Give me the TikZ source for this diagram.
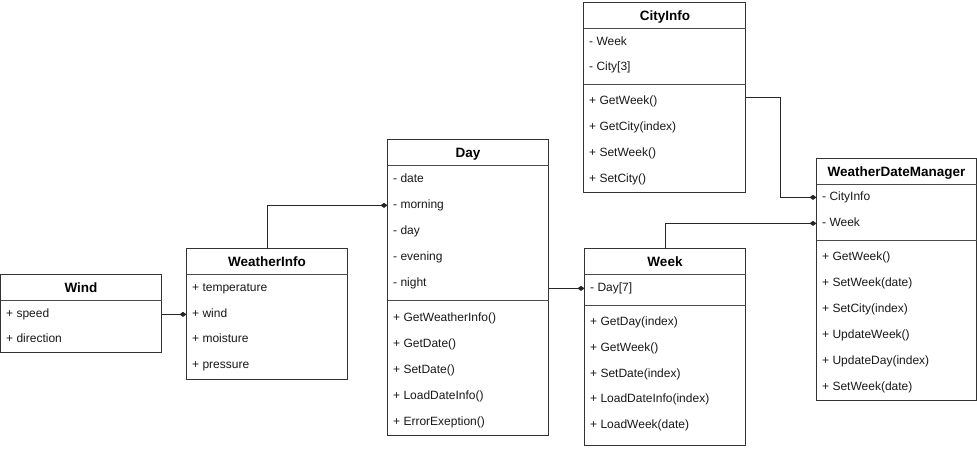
\documentclass[tikz,border=0pt]{standalone}
\usepackage{fontspec}
\setmainfont{Liberation Sans}
\usetikzlibrary{arrows.meta}
\begin{document}
\begin{tikzpicture}[x=1pt,y=-1pt,
  classbox/.style={draw=black!80,line width=1pt,fill=white,inner sep=0pt,outer sep=0pt,anchor=north west},
  sepline/.style={draw=black!70,line width=1pt},
  hdr/.style={font=\fontsize{13.5}{15}\selectfont\bfseries,inner sep=0pt,anchor=base},
  item/.style={font=\fontsize{12}{14}\selectfont,inner sep=0pt,anchor=base west,text=black!90},
  conn/.style={draw=black!85,line width=1pt,-{Diamond[length=7pt,width=5pt]}}]
\useasboundingbox (0,0) rectangle (977,448);
% Wind
\node[classbox,minimum width=161pt,minimum height=78pt] (wind) at (0.5,274.5) {};
\draw[sepline] (0.5,300.5) -- (161.5,300.5);
\node[hdr] (windh) at (81,292) {Wind};
\node[item] (w1) at (6,317) {+ speed};
\node[item] (w2) at (6,342) {+ direction};
% WeatherInfo
\node[classbox,minimum width=161pt,minimum height=131pt] (winfo) at (186.5,248.5) {};
\draw[sepline] (186.5,274.5) -- (347.5,274.5);
\node[hdr] (winfoh) at (267,266) {WeatherInfo};
\node[item] (wi1) at (192,291) {+ temperature};
\node[item] (wi2) at (192,317) {+ wind};
\node[item] (wi3) at (192,342) {+ moisture};
\node[item] (wi4) at (192,368) {+ pressure};
% Day
\node[classbox,minimum width=161pt,minimum height=296pt] (day) at (387.5,139.5) {};
\draw[sepline] (387.5,165.5) -- (548.5,165.5);
\draw[sepline] (387.5,300.5) -- (548.5,300.5);
\node[hdr] (dayh) at (468,157) {Day};
\node[item] (d1) at (393,182) {- date};
\node[item] (d2) at (393,208) {- morning};
\node[item] (d3) at (393,234) {- day};
\node[item] (d4) at (393,260) {- evening};
\node[item] (d5) at (393,286) {- night};
\node[item] (d6) at (393,321) {+ GetWeatherInfo()};
\node[item] (d7) at (393,347) {+ GetDate()};
\node[item] (d8) at (393,373) {+ SetDate()};
\node[item] (d9) at (393,399) {+ LoadDateInfo()};
\node[item] (d10) at (393,425) {+ ErrorExeption()};
% Week
\node[classbox,minimum width=161pt,minimum height=197pt] (week) at (584.5,248.5) {};
\draw[sepline] (584.5,274.5) -- (745.5,274.5);
\draw[sepline] (584.5,305.5) -- (745.5,305.5);
\node[hdr] (weekh) at (665,266) {Week};
\node[item] (k1) at (590,291) {- Day[7]};
\node[item] (k2) at (590,325) {+ GetDay(index)};
\node[item] (k3) at (590,351) {+ GetWeek()};
\node[item] (k4) at (590,377) {+ SetDate(index)};
\node[item] (k5) at (590,402) {+ LoadDateInfo(index)};
\node[item] (k6) at (590,428) {+ LoadWeek(date)};
% CityInfo
\node[classbox,minimum width=162pt,minimum height=190pt] (city) at (583.5,2.5) {};
\draw[sepline] (583.5,28.5) -- (745.5,28.5);
\draw[sepline] (583.5,84.5) -- (745.5,84.5);
\node[hdr] (cityh) at (665,20) {CityInfo};
\node[item] (c1) at (589,45) {- Week};
\node[item] (c2) at (589,70) {- City[3]};
\node[item] (c3) at (589,104) {+ GetWeek()};
\node[item] (c4) at (589,130) {+ GetCity(index)};
\node[item] (c5) at (589,156) {+ SetWeek()};
\node[item] (c6) at (589,182) {+ SetCity()};
% WeatherDateManager
\node[classbox,minimum width=160pt,minimum height=242pt] (wdm) at (816.5,158.5) {};
\draw[sepline] (816.5,184.5) -- (976.5,184.5);
\draw[sepline] (816.5,240.5) -- (976.5,240.5);
\node[hdr] (wdmh) at (896.5,176) {WeatherDateManager};
\node[item] (m1) at (822,200) {- CityInfo};
\node[item] (m2) at (822,226) {- Week};
\node[item] (m3) at (822,260) {+ GetWeek()};
\node[item] (m4) at (822,286) {+ SetWeek(date)};
\node[item] (m5) at (822,312) {+ SetCity(index)};
\node[item] (m6) at (822,338) {+ UpdateWeek()};
\node[item] (m7) at (822,364) {+ UpdateDay(index)};
\node[item] (m8) at (822,390) {+ SetWeek(date)};
% connectors
\coordinate (bend) at (780.5,97.5);
\draw[conn] (wind.east |- wi2.mid) -- (winfo.west |- wi2.mid);
\draw[conn] (winfo.north) -- (winfo.north |- d2.mid) -- (day.west |- d2.mid);
\draw[conn] (day.east |- k1.mid) -- (week.west |- k1.mid);
\draw[conn] (city.east |- bend) -- (bend) -- (bend |- m1.mid) -- (wdm.west |- m1.mid);
\draw[conn] (week.north) -- (week.north |- m2.mid) -- (wdm.west |- m2.mid);
\end{tikzpicture}
\end{document}
